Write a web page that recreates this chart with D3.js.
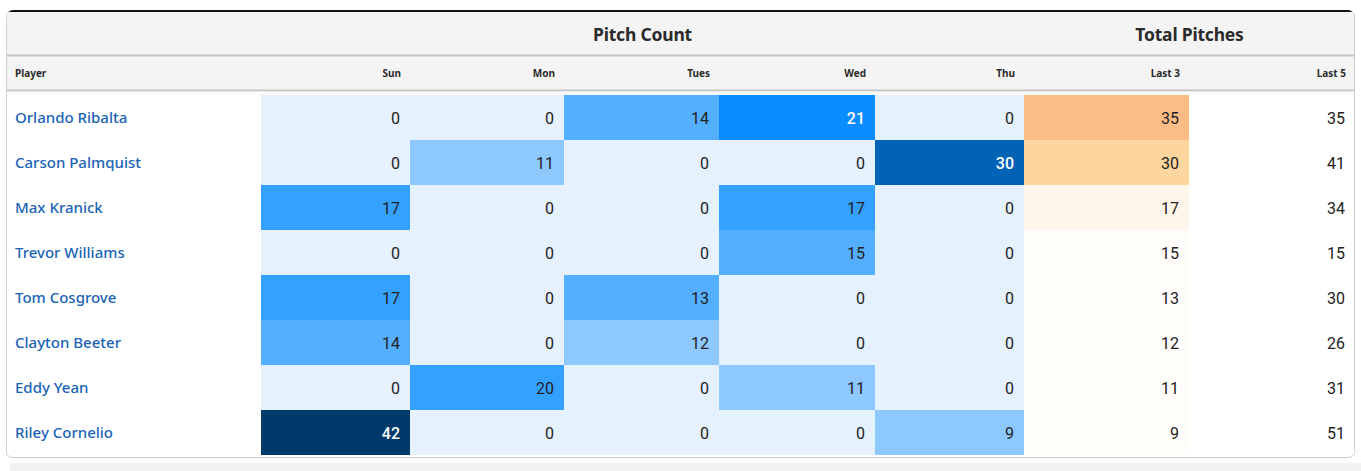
<!DOCTYPE html>
<html>
<head>
<meta charset="utf-8">
<script src="https://cdn.jsdelivr.net/npm/d3@7"></script>
<style>
  body { margin: 0; background: #fff; }
  .name { font-family: "Noto Sans", Lato, sans-serif; font-size: 15px; font-weight: 500; fill: #1a63b5; }
  .num { font-family: Roboto, "Noto Sans", sans-serif; font-size: 16px; font-variant-numeric: tabular-nums; }
  .sub { font-family: "Noto Sans", Lato, sans-serif; font-size: 10px; font-weight: 700; fill: #2a2a2a; }
  .group { font-family: "Noto Sans", Lato, sans-serif; font-size: 17.5px; font-weight: 700; fill: #2a2a2a; letter-spacing: -0.2px; }
</style>
</head>
<body>
<svg id="chart"></svg>
<script>
// data
const players = ["Orlando Ribalta", "Carson Palmquist", "Max Kranick", "Trevor Williams",
                 "Tom Cosgrove", "Clayton Beeter", "Eddy Yean", "Riley Cornelio"];
const days = ["Sun", "Mon", "Tues", "Wed", "Thu"];
const sun  = [0, 0, 17, 0, 17, 14, 0, 42];
const mon  = [0, 11, 0, 0, 0, 0, 20, 0];
const tues = [14, 0, 0, 0, 13, 12, 0, 0];
const wed  = [21, 0, 17, 15, 0, 0, 11, 0];
const thu  = [0, 30, 0, 0, 0, 0, 0, 9];
const last3 = [35, 30, 17, 15, 13, 12, 11, 9];
const last5 = [35, 41, 34, 15, 30, 26, 31, 51];
const groups = [{label: "Pitch Count", from: "Sun", to: "Thu"}, {label: "Total Pitches", from: "Last 3", to: "Last 5"}];

const dayValues = [sun, mon, tues, wed, thu];

const W = 1361, H = 471;
const boxLeft = 6, boxRight = 1355, boxTop = 10, boxBottom = 458;
// column widths (layout)
const columns = ["Player", ...days, "Last 3", "Last 5"];
const colWidths = [255, 149, 154, 155, 156, 149, 165, 166];
const colX = {};
let acc = boxLeft;
columns.forEach((c, i) => { colX[c] = [acc, acc + colWidths[i]]; acc += colWidths[i]; });

const svg = d3.select("#chart").attr("width", W).attr("height", H);

// background band under table
svg.append("rect").attr("x", 10).attr("y", 463).attr("width", W - 10).attr("height", 10).attr("fill", "#f2f2f2");

// container
svg.append("rect")
    .attr("x", boxLeft + 0.5).attr("y", boxTop + 0.5)
    .attr("width", boxRight - boxLeft - 1).attr("height", boxBottom - boxTop - 1)
    .attr("rx", 6).attr("fill", "#fff").attr("stroke", "#cfcfcf");

// header background
svg.append("clipPath").attr("id", "clip").append("rect")
    .attr("x", boxLeft + 1).attr("y", boxTop).attr("width", boxRight - boxLeft - 2)
    .attr("height", boxBottom - boxTop - 1).attr("rx", 6);
const g = svg.append("g").attr("clip-path", "url(#clip)");
g.append("rect").attr("x", boxLeft).attr("y", boxTop).attr("width", boxRight - boxLeft).attr("height", 82).attr("fill", "#f4f4f4");
g.append("rect").attr("x", boxLeft).attr("y", boxTop).attr("width", boxRight - boxLeft).attr("height", 2).attr("fill", "#111");
g.append("rect").attr("x", boxLeft).attr("y", 54.5).attr("width", boxRight - boxLeft).attr("height", 2).attr("fill", "#c4c4c4");
g.append("rect").attr("x", boxLeft).attr("y", 89.5).attr("width", boxRight - boxLeft).attr("height", 2).attr("fill", "#c4c4c4");
g.append("rect").attr("x", boxLeft).attr("y", 91.5).attr("width", boxRight - boxLeft).attr("height", 3.5).attr("fill", "#fafafa");

// scales
const yScale = d3.scaleBand().domain(players).range([95, 455]);

const blue = d3.scaleThreshold()
    .domain([1, 13, 17, 21, 25, 35])
    .range(["#e5f1fd", "#8dc9ff", "#54afff", "#35a1ff", "#0a8cff", "#0063b6", "#003a6b"]);
const orange = d3.scaleThreshold()
    .domain([16, 25, 33])
    .range(["#fffdfa", "#fff6eb", "#fdd59f", "#fcbc86"]);

// group headers
groups.forEach(gr => {
    const x0 = colX[gr.from][0], x1 = colX[gr.to][1];
    g.append("text").attr("class", "group")
        .attr("x", (x0 + x1) / 2).attr("y", 41).attr("text-anchor", "middle").text(gr.label);
});

// sub headers
columns.forEach(c => {
    const isPlayer = c === "Player";
    g.append("text").attr("class", "sub")
        .attr("x", isPlayer ? colX[c][0] + 9 : colX[c][1] - 9)
        .attr("y", 77)
        .attr("text-anchor", isPlayer ? "start" : "end")
        .text(c);
});

// cells
const body = g.append("g");
const cells = [];
players.forEach((p, i) => {
    days.forEach((d, j) => cells.push({player: p, col: d, value: dayValues[j][i], fill: blue(dayValues[j][i])}));
    cells.push({player: p, col: "Last 3", value: last3[i], fill: orange(last3[i])});
    cells.push({player: p, col: "Last 5", value: last5[i], fill: "#fff"});
});

body.selectAll("rect.cell").data(cells).join("rect")
    .attr("class", "cell")
    .attr("x", d => colX[d.col][0])
    .attr("y", d => yScale(d.player))
    .attr("width", d => colX[d.col][1] - colX[d.col][0])
    .attr("height", yScale.bandwidth())
    .attr("fill", d => d.fill);

const isDark = c => d3.hsl(c).l < 0.55;
body.selectAll("text.num").data(cells).join("text")
    .attr("class", "num")
    .attr("x", d => colX[d.col][1] - 10)
    .attr("y", d => yScale(d.player) + yScale.bandwidth() / 2 + 6)
    .attr("text-anchor", "end")
    .attr("fill", d => isDark(d.fill) ? "#fff" : "#222")
    .attr("font-weight", d => isDark(d.fill) ? 500 : 400)
    .text(d => d.value);

body.selectAll("text.name").data(players).join("text")
    .attr("class", "name")
    .attr("x", colX["Player"][0] + 9)
    .attr("y", d => yScale(d) + yScale.bandwidth() / 2 + 5.5)
    .text(d => d);
</script>
</body>
</html>
